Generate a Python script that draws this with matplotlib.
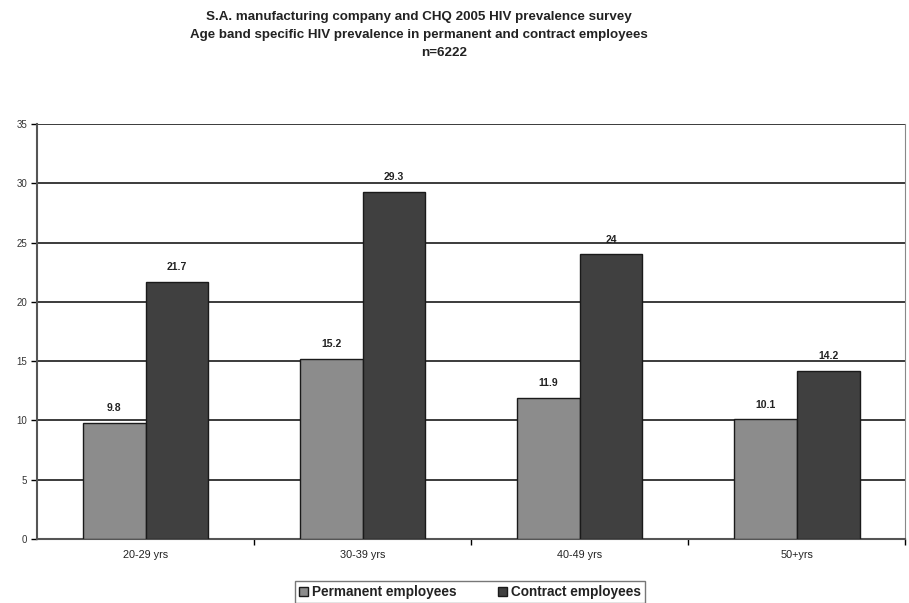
import numpy as np
import matplotlib
matplotlib.use("Agg")
import matplotlib.pyplot as plt

plt.rcParams['font.family'] = ['Liberation Sans', 'DejaVu Sans']

age_bands = ["20-29 yrs", "30-39 yrs", "40-49 yrs", "50+yrs"]
permanent = [9.8, 15.2, 11.9, 10.1]
contract = [21.7, 29.3, 24, 14.2]
perm_labels = ["9.8", "15.2", "11.9", "10.1"]
contract_labels = ["21.7", "29.3", "24", "14.2"]

fig = plt.figure(figsize=(9.09, 6.03), dpi=100)
ax = fig.add_axes([0.0407, 0.1061, 0.955, 0.6883])

x = np.arange(len(age_bands))
w = 0.29
b1 = ax.bar(x - w / 2, permanent, w, color='#8c8c8c', edgecolor='#1a1a1a', linewidth=1.0,
            label='Permanent employees', zorder=3)
b2 = ax.bar(x + w / 2, contract, w, color='#404040', edgecolor='#1a1a1a', linewidth=1.0,
            label='Contract employees', zorder=3)

for rect, lab in zip(b1, perm_labels):
    ax.text(rect.get_x() + rect.get_width() / 2, rect.get_height() + 0.8, lab,
            ha='center', va='bottom', fontsize=7.5, fontweight='bold', color='#222222')
for rect, lab in zip(b2, contract_labels):
    ax.text(rect.get_x() + rect.get_width() / 2, rect.get_height() + 0.8, lab,
            ha='center', va='bottom', fontsize=7.5, fontweight='bold', color='#222222')

ax.set_ylim(0, 35)
ax.set_xlim(-0.5, 3.5)
ax.set_yticks(range(0, 36, 5))
ax.set_yticklabels([str(v) for v in range(0, 36, 5)], fontsize=7, color='#333333')
ax.set_xticks(x)
ax.set_xticklabels(age_bands, fontsize=7.8, color='#222222')
ax.tick_params(axis='x', length=0, pad=8)
ax.tick_params(axis='y', length=4, width=1, direction='out', pad=3)
ax.set_xticks([0.5, 1.5, 2.5, 3.5], minor=True)
ax.tick_params(axis='x', which='minor', length=4, width=1, direction='out')

ax.yaxis.grid(True, color='#1a1a1a', linewidth=1.2, zorder=0)
ax.set_axisbelow(True)
for side in ['left', 'bottom']:
    ax.spines[side].set_color('#555555')
    ax.spines[side].set_linewidth(1.5)
ax.spines['right'].set_color('#888888')
ax.spines['top'].set_visible(False)

fig.text(0.461, 0.972, "S.A. manufacturing company and CHQ 2005 HIV prevalence survey",
         ha='center', va='center', fontsize=9.6, fontweight='bold', color='#222222')
fig.text(0.461, 0.942, "Age band specific HIV prevalence in permanent and contract employees",
         ha='center', va='center', fontsize=9.6, fontweight='bold', color='#222222')
fig.text(0.489, 0.912, "n=6222",
         ha='center', va='center', fontsize=9.6, fontweight='bold', color='#222222')

leg = fig.legend(loc='center', bbox_to_anchor=(0.517, 0.018), ncol=2, fontsize=9.8,
                 frameon=True, fancybox=False, edgecolor='#555555', handlelength=0.7,
                 handleheight=0.7, handletextpad=0.3, columnspacing=3.0, borderpad=0.3)
leg.get_frame().set_linewidth(1.0)
for t in leg.get_texts():
    t.set_fontweight('bold')
    t.set_color('#222222')

fig.savefig("out.png", dpi=100)
